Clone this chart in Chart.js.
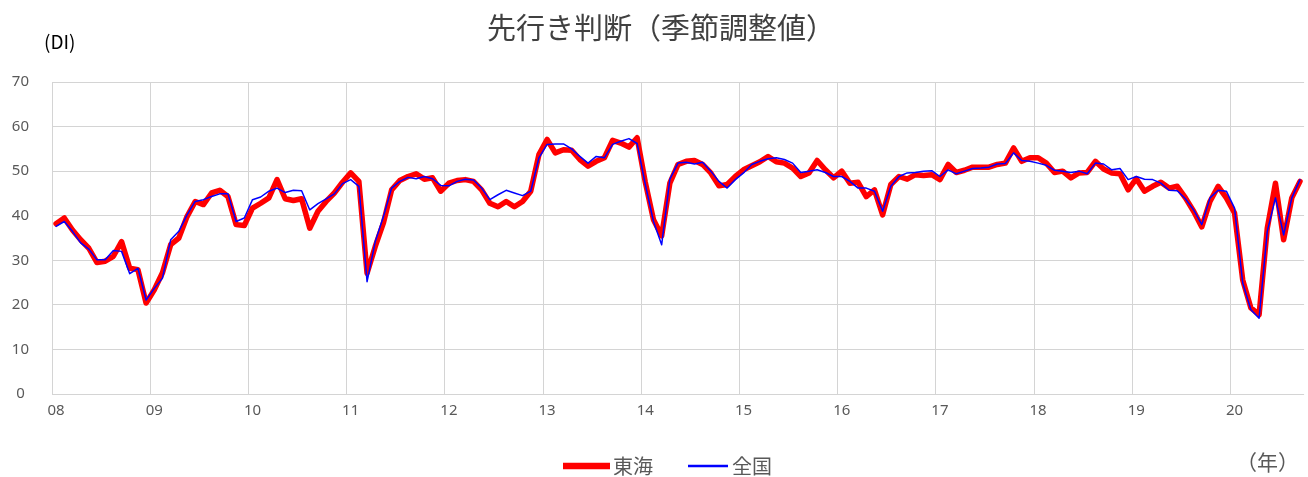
<!DOCTYPE html>
<html>
<head>
<meta charset="utf-8">
<script src="https://cdn.jsdelivr.net/npm/chart.js@4/dist/chart.umd.min.js"></script>
<style>
  body { margin: 0; background: #fff; }
  #wrap { width: 1308px; height: 477px; position: relative; }
</style>
</head>
<body>
<div id="wrap"><canvas id="dichart"></canvas></div>
<script>
// 先行き判断 DI (季節調整値), monthly 2008/01 - 2020/09
const yearLabels = ['08', '09', '10', '11', '12', '13', '14', '15', '16', '17', '18', '19', '20'];

const tokai = [
    38.2, 39.5, 36.8, 34.6, 32.7, 29.5, 29.8, 30.9, 34.2, 28.2, 27.9, 20.4,
    23.4, 27.2, 33.5, 35.0, 39.8, 43.2, 42.5, 45.1, 45.7, 44.3, 38.0, 37.8,
    41.7, 42.8, 44.0, 48.1, 43.8, 43.4, 43.8, 37.2, 41.0, 43.2, 45.1, 47.5,
    49.6, 47.7, 27.1, 33.1, 38.4, 45.8, 47.9, 48.8, 49.4, 48.2, 48.5, 45.5,
    47.3, 47.9, 48.1, 47.7, 45.8, 42.8, 42.0, 43.2, 42.0, 43.2, 45.5, 53.7,
    57.1, 54.1, 54.8, 54.7, 52.6, 51.1, 52.2, 53.0, 56.9, 56.3, 55.4, 57.5,
    47.5, 39.1, 35.5, 47.3, 51.5, 52.2, 52.4, 51.5, 49.6, 46.7, 47.0, 48.8,
    50.3, 51.2, 52.1, 53.3, 52.1, 51.8, 50.7, 48.8, 49.6, 52.4, 50.3, 48.5,
    50.0, 47.3, 47.5, 44.3, 45.8, 40.2, 47.0, 48.8, 48.2, 49.2, 49.0, 49.2,
    48.1, 51.5, 49.7, 50.2, 50.9, 50.9, 50.9, 51.5, 51.8, 55.2, 52.2, 53.0,
    53.0, 51.8, 49.7, 50.0, 48.5, 49.6, 49.7, 52.2, 50.5, 49.6, 49.4, 45.8,
    48.3, 45.5, 46.6, 47.5, 46.2, 46.6, 44.0, 41.0, 37.5, 43.2, 46.6, 44.0,
    40.6, 25.6, 19.3, 17.8, 37.2, 47.3, 34.6, 44.0, 47.7
];

const zenkoku = [
    37.6, 38.7, 36.5, 33.9, 32.5, 30.1, 30.1, 32.2, 32.0, 27.0, 28.2, 21.1,
    23.7, 26.0, 34.6, 36.5, 40.2, 43.2, 43.6, 44.3, 44.9, 44.9, 38.7, 39.5,
    43.6, 44.2, 45.5, 46.2, 45.2, 45.7, 45.6, 41.3, 42.7, 43.8, 44.9, 47.2,
    48.1, 46.6, 25.2, 34.2, 39.8, 46.2, 47.7, 48.6, 48.3, 48.8, 48.3, 46.8,
    46.7, 47.7, 48.2, 48.0, 46.2, 43.6, 44.7, 45.7, 45.1, 44.5, 45.5, 53.0,
    56.0, 56.1, 56.1, 55.0, 53.3, 51.8, 53.3, 53.0, 56.0, 56.7, 57.3, 56.2,
    47.0, 38.7, 33.5, 48.2, 51.8, 52.0, 51.6, 52.0, 50.0, 47.7, 46.2, 48.1,
    49.6, 51.5, 52.2, 52.8, 53.0, 52.6, 51.8, 49.7, 50.0, 50.3, 49.7, 48.8,
    48.8, 47.7, 46.2, 46.2, 45.5, 41.0, 46.6, 48.8, 49.6, 49.7, 50.0, 50.1,
    48.8, 50.3, 49.4, 50.0, 50.6, 50.7, 50.9, 51.6, 51.7, 54.1, 52.4, 52.2,
    51.8, 51.3, 50.2, 50.0, 49.7, 50.0, 49.4, 51.8, 51.6, 50.3, 50.6, 48.1,
    48.8, 48.2, 48.1, 47.3, 45.7, 45.6, 43.8, 41.3, 38.0, 44.0, 45.7, 45.5,
    41.7, 24.9, 18.9, 17.0, 36.5, 44.0, 35.7, 44.0, 48.1
];

// one category per month, "YY/MM"
const months = [];
for (let i = 0; i < tokai.length; i++) {
    const yy = yearLabels[Math.floor(i / 12)];
    months.push(yy + '/' + String(i % 12 + 1).padStart(2, '0'));
}

const gridColor = '#d4d4d4';
const textColor = '#595959';
const jpFont = '"Noto Sans CJK JP", "Noto Sans", sans-serif';

// title, unit labels and the legend drawn by hand (Excel layout)
const annotations = {
    id: 'annotations',
    afterDraw(chart) {
        const ctx = chart.ctx;
        ctx.save();
        ctx.textBaseline = 'middle';

        ctx.fillStyle = '#404040';
        ctx.font = '29px ' + jpFont;
        ctx.textAlign = 'center';
        ctx.fillText('先行き判断（季節調整値）', 661, 28);

        ctx.fillStyle = '#000';
        ctx.font = '19px ' + jpFont;
        ctx.textAlign = 'left';
        ctx.fillText('(DI)', 44, 42);

        ctx.fillStyle = textColor;
        ctx.font = '21px ' + jpFont;
        ctx.fillText('（年）', 1236, 462);

        const items = [
            { ds: chart.data.datasets[0], x0: 563, x1: 610, tx: 613 },
            { ds: chart.data.datasets[1], x0: 688, x1: 728, tx: 732 }
        ];
        ctx.font = '20px ' + jpFont;
        items.forEach(it => {
            ctx.strokeStyle = it.ds.borderColor;
            ctx.lineWidth = it.ds.borderWidth + 1;
            ctx.beginPath();
            ctx.moveTo(it.x0, 466);
            ctx.lineTo(it.x1, 466);
            ctx.stroke();
            ctx.fillStyle = textColor;
            ctx.fillText(it.ds.label, it.tx, 466);
        });
        ctx.restore();
    }
};

new Chart(document.getElementById('dichart'), {
    type: 'line',
    data: {
        labels: months,
        datasets: [
            {
                label: '東海',
                data: tokai,
                borderColor: '#ff0000',
                backgroundColor: '#ff0000',
                borderWidth: 5.5,
                order: 1
            },
            {
                label: '全国',
                data: zenkoku,
                borderColor: '#0000ff',
                backgroundColor: '#0000ff',
                borderWidth: 1.5,
                order: 0
            }
        ]
    },
    options: {
        responsive: true,
        maintainAspectRatio: false,
        animation: false,
        elements: {
            point: { radius: 0 },
            line: { tension: 0, borderJoinStyle: 'round', borderCapStyle: 'round' }
        },
        layout: {
            padding: { top: 82, right: 0, left: 0, bottom: 0 }
        },
        plugins: {
            title: { display: false },
            legend: { display: false },
            tooltip: { enabled: false }
        },
        scales: {
            x: {
                offset: true,
                afterFit: scale => { scale.height = 83; },
                grid: {
                    offset: true,
                    drawTicks: false,
                    color: c => (c.index % 12 === 0 ? gridColor : 'rgba(0,0,0,0)')
                },
                border: { display: false },
                ticks: {
                    color: textColor,
                    font: { size: 15, family: '"Noto Sans", sans-serif' },
                    padding: 8,
                    maxRotation: 0,
                    minRotation: 0,
                    autoSkip: false,
                    callback: (v, i) => (i % 12 === 0 ? yearLabels[i / 12] : '')
                }
            },
            y: {
                min: 0,
                max: 70,
                afterFit: scale => { scale.width = 52; },
                grid: { color: gridColor, drawTicks: false },
                border: { display: false },
                ticks: {
                    stepSize: 10,
                    color: textColor,
                    font: { size: 15, family: '"Noto Sans", sans-serif' },
                    crossAlign: 'center',
                    padding: 23
                }
            }
        }
    },
    plugins: [annotations]
});
</script>
</body>
</html>
